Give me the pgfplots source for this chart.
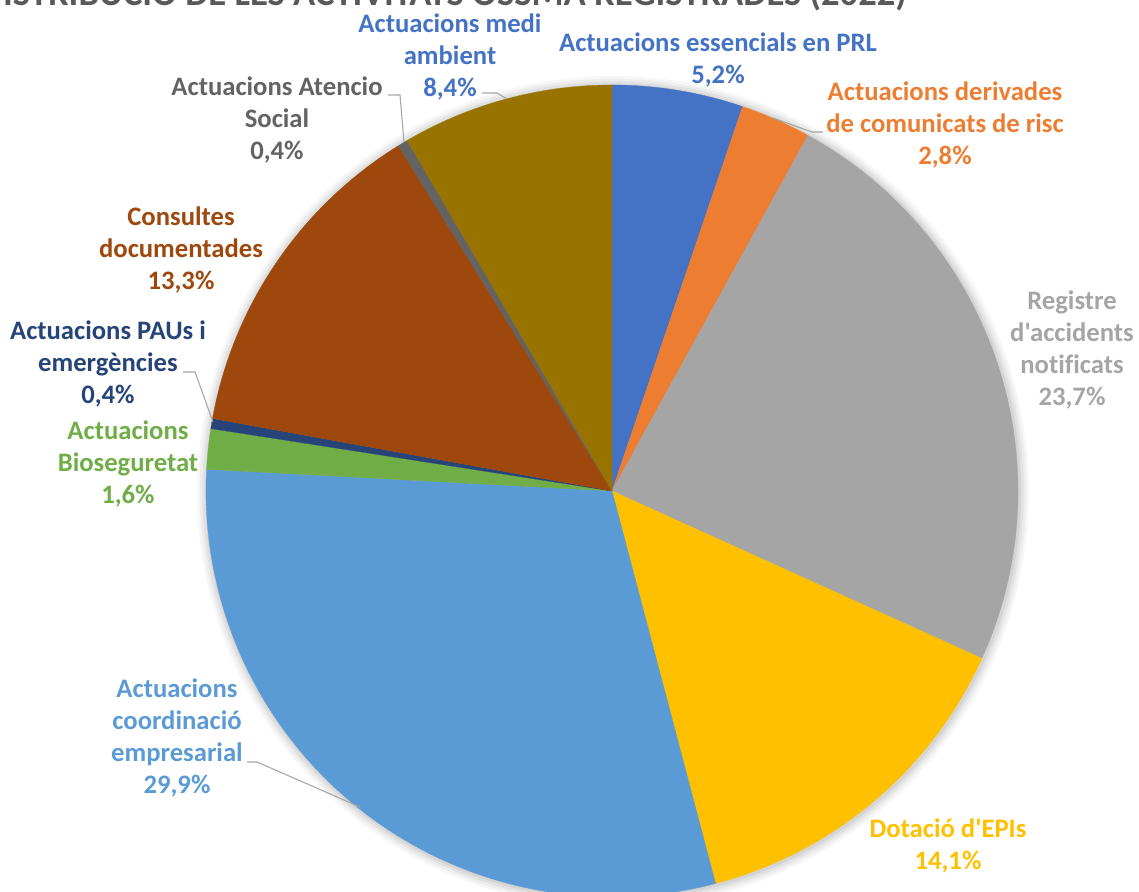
\documentclass[border=0pt]{standalone}
\usepackage{pgfplots}
\pgfplotsset{compat=1.18}
\usepackage{pgfplotstable}
\usepackage{fontspec}
\setmainfont{Carlito}
\newfontfamily\calfont{Carlito}[Ligatures=CommonOff]
\definecolor{c1}{HTML}{4472C4}
\definecolor{c2}{HTML}{ED7D31}
\definecolor{c3}{HTML}{A5A5A5}
\definecolor{c4}{HTML}{FFC000}
\definecolor{c5}{HTML}{5B9BD5}
\definecolor{c6}{HTML}{70AD47}
\definecolor{c7}{HTML}{264478}
\definecolor{c8}{HTML}{9E480E}
\definecolor{c9}{HTML}{636363}
\definecolor{c10}{HTML}{997300}
\definecolor{titlegray}{HTML}{595959}
\definecolor{leader}{HTML}{A6A6A6}
\pgfplotstableread[col sep=comma]{
label,value,color
Actuacions essencials en PRL,5.2,c1
Actuacions derivades de comunicats de risc,2.8,c2
Registre d'accidents notificats,23.7,c3
Dotacio d'EPIs,14.1,c4
Actuacions coordinacio empresarial,29.9,c5
Actuacions Bioseguretat,1.6,c6
Actuacions PAUs i emergencies,0.4,c7
Consultes documentades,13.3,c8
Actuacions Atencio Social,0.4,c9
Actuacions medi ambient,8.4,c10
}\piedata
\newcommand\lab{\calfont\fontsize{20}{24}\selectfont\bfseries}
\begin{document}
\begin{tikzpicture}
\begin{axis}[x=0.75pt,y=0.75pt,xmin=0,xmax=1139,ymin=0,ymax=892,
  hide axis,scale only axis,clip=false]
\coordinate (bl) at (axis cs:0,0);
\coordinate (tr) at (axis cs:1139,892);
% soft shadow
\fill[black,opacity=0.03] (axis cs:613,400) circle[radius=312pt];
\fill[black,opacity=0.04] (axis cs:613,400) circle[radius=310pt];
\fill[black,opacity=0.05] (axis cs:613,400) circle[radius=308pt];
\fill[black,opacity=0.06] (axis cs:613,400) circle[radius=306pt];
% wedges
\pgfplotstablegetrowsof{\piedata}
\pgfmathtruncatemacro\lastrow{\pgfplotsretval-1}
\def\total{0}
\pgfplotsforeachungrouped \i in {0,...,\lastrow}{%
  \pgfplotstablegetelem{\i}{value}\of\piedata
  \pgfmathsetmacro\total{\total+\pgfplotsretval}}
\def\cumul{0}
\pgfplotsforeachungrouped \i in {0,...,\lastrow}{%
  \pgfplotstablegetelem{\i}{value}\of\piedata
  \let\val\pgfplotsretval
  \pgfplotstablegetelem{\i}{color}\of\piedata
  \let\col\pgfplotsretval
  \pgfmathsetmacro\sa{90-\cumul/\total*360}
  \pgfmathsetmacro\cumul{\cumul+\val}
  \pgfmathsetmacro\ea{90-\cumul/\total*360}
  \edef\temp{\noexpand\filldraw[fill=\col,draw=\col,line width=0.2pt,line join=round] (axis cs:612,401) -- ++(\sa:304.5pt) arc[start angle=\sa,end angle=\ea,radius=304.5pt] -- cycle;}
  \temp
}
% leader lines
\draw[leader,line width=0.8pt] (axis cs:773,774) -- (axis cs:812,760) -- (axis cs:823,760);
\draw[leader,line width=0.8pt] (axis cs:247,130) -- (axis cs:257,130) -- (axis cs:360,85);
\draw[leader,line width=0.8pt] (axis cs:183,520) -- (axis cs:195,520) -- (axis cs:213,470);
\draw[leader,line width=0.8pt] (axis cs:388,797) -- (axis cs:400,797) -- (axis cs:404,750);
\draw[leader,line width=0.8pt] (axis cs:482,799) -- (axis cs:497,799) -- (axis cs:507,793);
% labels
\node[text=c1,align=center,inner sep=0pt,font=\lab] at (axis cs:718,832) {Actuacions essencials en PRL\\5,2\%};
\node[text=c2,align=center,inner sep=0pt,font=\lab] at (axis cs:945,767) {Actuacions derivades\\de comunicats de risc\\2,8\%};
\node[text=c3,align=center,inner sep=0pt,font=\lab] at (axis cs:1072,542) {Registre\\d'accidents\\notificats\\23,7\%};
\node[text=c4,align=center,inner sep=0pt,font=\lab] at (axis cs:948,46) {Dotació d'EPIs\\14,1\%};
\node[text=c5,align=center,inner sep=0pt,font=\lab] at (axis cs:177,154) {Actuacions\\coordinació\\empresarial\\29,9\%};
\node[text=c6,align=center,inner sep=0pt,font=\lab] at (axis cs:128,428) {Actuacions\\Bioseguretat\\1,6\%};
\node[text=c7,align=center,inner sep=0pt,font=\lab] at (axis cs:108,528) {Actuacions PAUs i\\emergències\\0,4\%};
\node[text=c8,align=center,inner sep=0pt,font=\lab] at (axis cs:181,642) {Consultes\\documentades\\13,3\%};
\node[text=c9,align=center,inner sep=0pt,font=\lab] at (axis cs:277,772) {Actuacions Atencio\\Social\\0,4\%};
\node[text=c1,align=center,inner sep=0pt,font=\lab] at (axis cs:450,835) {Actuacions medi\\ambient\\8,4\%};
% title (cut at the top as in the reference)
\node[anchor=base east,text=titlegray,inner sep=0pt,font=\calfont\fontsize{27.5}{31}\selectfont\bfseries] at (axis cs:907,886) {DISTRIBUCIÓ DE LES ACTIVITATS OSSMA REGISTRADES (2022)};
\end{axis}
\pgfresetboundingbox
\path[use as bounding box] (bl) rectangle (tr);
\end{tikzpicture}
\end{document}
